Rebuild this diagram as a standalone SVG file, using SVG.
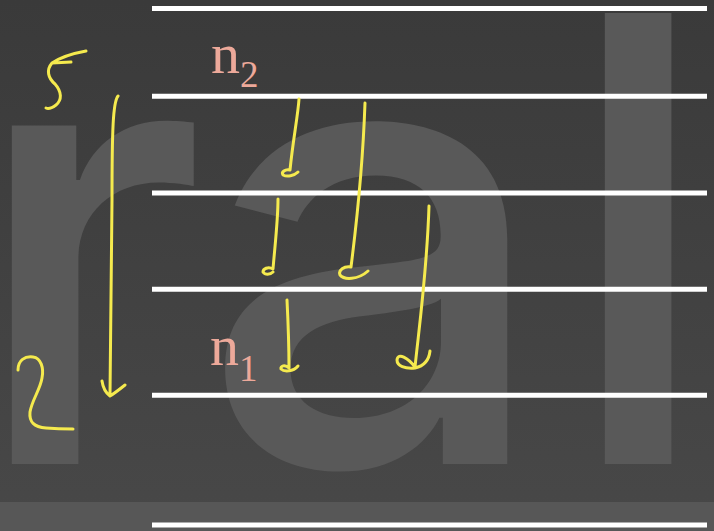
<svg xmlns="http://www.w3.org/2000/svg" width="714" height="531" viewBox="0 0 714 531">
<defs>
<linearGradient id="bg" x1="0" y1="0" x2="0" y2="1">
<stop offset="0" stop-color="#3a3a3a"/>
<stop offset="1" stop-color="#484848"/>
</linearGradient>
<style>
.wm{font-family:Inter,"Liberation Sans",sans-serif;font-weight:500;font-size:620px;fill:#595959}
.lv{stroke:#ffffff;stroke-width:5;fill:none}
.pen{stroke:#f5ea4e;stroke-width:3;fill:none;stroke-linecap:round;stroke-linejoin:round}
.lbl{font-family:"Liberation Serif",serif;fill:#eda99a}
</style>
</defs>
<rect x="0" y="0" width="714" height="531" fill="url(#bg)"/>
<rect x="0" y="502" width="714" height="29" fill="#575757"/>
<g id="watermark">
<text class="wm" x="-33" y="464">r</text>
<text class="wm" x="200" y="464">a</text>
<text class="wm" x="560" y="464">l</text>
</g>
<g id="levels">
<line class="lv" x1="152" y1="8.5" x2="707" y2="8.5"/>
<line class="lv" x1="152" y1="96.3" x2="707" y2="96.3"/>
<line class="lv" x1="152" y1="193" x2="707" y2="193"/>
<line class="lv" x1="152" y1="289.3" x2="707" y2="289.3"/>
<line class="lv" x1="152" y1="395.3" x2="707" y2="395.3"/>
<line class="lv" x1="152" y1="525" x2="707" y2="525"/>
</g>
<g id="label-n2">
<text class="lbl" x="211" y="73" font-size="58">n</text>
<text class="lbl" x="240" y="87" font-size="37">2</text>
</g>
<g id="label-n1">
<text class="lbl" x="210" y="365" font-size="58">n</text>
<text class="lbl" x="239" y="381" font-size="37">1</text>
</g>
<g id="mark-5">
<path class="pen" d="M86,51 Q64,55 52,63 L71,62 M52,63 C46,70 48,78 55,84 C62,92 62,100 56,105 C52,108 48,109 46,108"/>
</g>
<g id="mark-2">
<path class="pen" d="M18,370 C18,360 25,356 33,357 C41,358 44,368 42,378 C40,390 32,400 30,412 C29,422 34,427 46,428 C58,429 66,429 73,429"/>
</g>
<g id="connectors">
<path class="pen" d="M118,96 C113,102 112,130 112,200 L110,395 M102,381 C103,388 106,393 110,396 C115,393 120,389 125,385"/>
<path class="pen" d="M299,99 C298,115 293,140 290,170 C285,169 281,172 283,175 C287,177 294,176 298,172"/>
<path class="pen" d="M365,103 C363,160 357,220 351,267 C344,266 338,270 340,275 C344,280 358,280 368,271"/>
<path class="pen" d="M278,199 C278,220 275,245 273,269 C268,266 263,269 263,272 C265,275 270,275 273,272"/>
<path class="pen" d="M429,206 C427,270 420,320 415,367 C408,358 398,352 397,360 C397,366 405,369 415,368 C424,366 429,360 430,351"/>
<path class="pen" d="M287,300 C288,320 289,345 289,368 C285,364 280,366 281,369 C284,372 293,372 298,366"/>
</g>
</svg>
